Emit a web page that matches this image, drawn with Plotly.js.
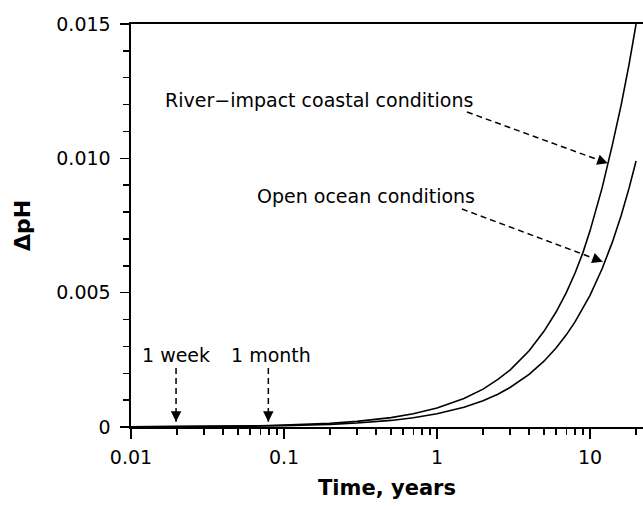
<!DOCTYPE html>
<html>
<head>
<meta charset="utf-8">
<script src="https://cdn.plot.ly/plotly-3.0.1.min.js"></script>
<style>html,body{margin:0;padding:0;background:#fff;}#chart{width:643px;height:510px;}</style>
</head>
<body>
<div id="chart"></div>
<script>
// ---- data ----
const timeYears = [0.01, 0.015, 0.02, 0.03, 0.05, 0.07, 0.1, 0.15, 0.2, 0.3, 0.5, 0.7, 1, 1.5, 2, 2.5, 3, 4, 5, 6, 7, 8, 9, 10, 12, 14, 16, 18, 20];
const riverCoastal = [0.000007, 0.000011, 0.000014, 0.000021, 0.000035, 0.000049, 0.00007, 0.000105, 0.00014, 0.00021, 0.00035, 0.00049, 0.00071, 0.00106, 0.00141, 0.00177, 0.00212, 0.00284, 0.00356, 0.00428, 0.005, 0.00574, 0.0065, 0.0073, 0.0089, 0.0105, 0.012, 0.0135, 0.015];
const openOcean = [0.000005, 0.0000075, 0.00001, 0.000015, 0.000025, 0.000035, 0.00005, 0.000074, 0.000098, 0.000147, 0.000245, 0.000343, 0.00049, 0.000735, 0.00098, 0.00122, 0.00147, 0.00196, 0.00245, 0.00294, 0.00343, 0.00392, 0.00441, 0.0049, 0.00589, 0.00688, 0.00788, 0.00889, 0.0099];

const xMajorTicks = [0.01, 0.1, 1, 10];
const xMajorLabels = ['0.01', '0.1', '1', '10'];
const xMinorTicks = [0.02,0.03,0.04,0.05,0.06,0.07,0.08,0.09, 0.2,0.3,0.4,0.5,0.6,0.7,0.8,0.9, 2,3,4,5,6,7,8,9, 20];
const yMajorTicks = [0, 0.005, 0.010, 0.015];
const yMajorLabels = ['0', '0.005', '0.010', '0.015'];
const yMinorTicks = [0.001,0.002,0.003,0.004, 0.006,0.007,0.008,0.009, 0.011,0.012,0.013,0.014];

// text labels: text, time (left edge), ΔpH (middle)
const labelTexts = ['River\u2212impact coastal conditions', 'Open ocean conditions', '1 week', '1 month'];
const labelTimes = [0.01630, 0.0650, 0.01150, 0.04400];
const labelValues = [0.01217, 0.0086, 0.00268, 0.00268];

// dashed pointer arrows: tail (time, ΔpH) -> head (time, ΔpH)
const arrowTailTimes  = [1.57, 1.456, 0.0197, 0.079];
const arrowTailValues = [0.011725, 0.008114, 0.0022, 0.0022];
const arrowHeadTimes  = [13.06, 12.11, 0.0197, 0.079];
const arrowHeadValues = [0.009815, 0.006153, 0.0002, 0.0002];

// ---- build ----
const font = 'DejaVu Sans, Verdana, sans-serif';
const traces = [
  {x: timeYears, y: riverCoastal, mode: 'lines', line: {color: '#000', width: 1.6, shape: 'linear'}, hoverinfo: 'skip'},
  {x: timeYears, y: openOcean, mode: 'lines', line: {color: '#000', width: 1.6, shape: 'linear'}, hoverinfo: 'skip'}
];
for (let i = 0; i < arrowTailTimes.length; i++) {
  traces.push({x: [arrowTailTimes[i], arrowHeadTimes[i]], y: [arrowTailValues[i], arrowHeadValues[i]],
    mode: 'lines', line: {color: '#000', width: 1.5, dash: '6px,4px'}, hoverinfo: 'skip'});
}

const annotations = [];
for (let i = 0; i < labelTexts.length; i++) {
  annotations.push({x: Math.log10(labelTimes[i]), y: labelValues[i], xref: 'x', yref: 'y', text: labelTexts[i],
    showarrow: false, xanchor: 'left', yanchor: 'middle', font: {family: font, size: 19, color: '#000'}});
}
// arrowheads only (direction from tail to head, in pixels after layout)
const arrowDirs = [[-9.4, -3.4], [-9.4, -3.5], [0, -9], [0, -9]];
for (let i = 0; i < arrowHeadTimes.length; i++) {
  annotations.push({x: Math.log10(arrowHeadTimes[i]), y: arrowHeadValues[i], xref: 'x', yref: 'y', text: '',
    showarrow: true, arrowhead: 2, arrowsize: 1.4, arrowwidth: 1.5, arrowcolor: '#000',
    ax: arrowDirs[i][0], ay: arrowDirs[i][1], standoff: 0});
}

const layout = {
  width: 643, height: 510,
  margin: {l: 131, r: 0, t: 24, b: 83, pad: 0},
  paper_bgcolor: '#fff', plot_bgcolor: '#fff',
  showlegend: false,
  font: {family: font, color: '#000', size: 19},
  xaxis: {
    type: 'log', range: [-2, Math.log10(22.2)],
    showline: true, linewidth: 2, linecolor: '#000', mirror: true,
    ticks: 'outside', ticklen: 10, tickwidth: 1.5, tickcolor: '#000',
    tickmode: 'array', tickvals: xMajorTicks, ticktext: xMajorLabels,
    tickfont: {family: font, size: 19, color: '#000'}, ticklabelstandoff: 2,
    minor: {ticks: 'outside', ticklen: 6, tickwidth: 1.5, tickcolor: '#000', tickvals: xMinorTicks, showgrid: false},
    showgrid: false, zeroline: false,
    title: {text: '<b>Time, years</b>', font: {family: font, size: 21, color: '#000'}, standoff: 14}
  },
  yaxis: {
    range: [0, 0.015],
    showline: true, linewidth: 2.5, linecolor: '#000',
    ticks: 'outside', ticklen: 9, tickwidth: 1.5, tickcolor: '#000',
    tickmode: 'array', tickvals: yMajorTicks, ticktext: yMajorLabels,
    tickfont: {family: font, size: 19, color: '#000'}, ticklabelstandoff: 5,
    minor: {ticks: 'outside', ticklen: 6, tickwidth: 1.5, tickcolor: '#000', tickvals: yMinorTicks, showgrid: false},
    showgrid: false, zeroline: false,
    title: {text: '<b>ΔpH</b>', font: {family: font, size: 22, color: '#000'}, standoff: 20}
  },
  annotations: annotations
};

Plotly.newPlot('chart', traces, layout, {staticPlot: true, displayModeBar: false});
</script>
</body>
</html>
